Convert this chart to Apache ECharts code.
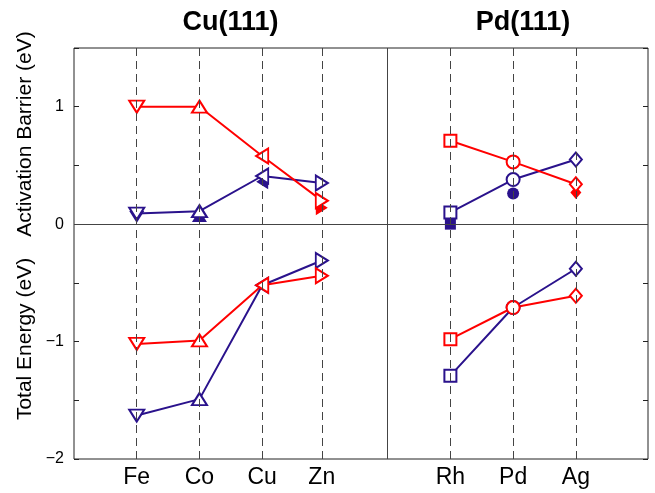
<!DOCTYPE html>
<html><head><meta charset="utf-8">
<script src="https://cdn.jsdelivr.net/npm/echarts@6/dist/echarts.min.js"></script>
<style>html,body{margin:0;padding:0;background:#fff}#c{width:655px;height:493px}</style>
</head><body><div id="c"></div>
<script>
// ---- data ----
const elements = ['Fe', 'Co', 'Cu', 'Zn', 'Rh', 'Pd', 'Ag'];
const xPos = [1, 2, 3, 3.95, 6, 7, 8];
const panelOf = [0, 0, 0, 0, 1, 1, 1];
const panelTitles = ['Cu(111)', 'Pd(111)'];
const markerOf = ['triangle-down', 'triangle', 'triangle-left', 'triangle-right', 'rect', 'circle', 'diamond'];
const barrierRed = [1.00, 1.00, 0.58, 0.20, 0.71, 0.53, 0.34];
const barrierBlue = [0.09, 0.11, 0.41, 0.35, 0.10, 0.38, 0.55];
const barrierRedFilled = [null, null, null, 0.14, null, null, 0.27];
const barrierBlueFilled = [0.06, 0.07, 0.36, null, 0.00, 0.26, null];
const energyRed = [-1.02, -0.99, -0.52, -0.44, -0.98, -0.71, -0.61];
const energyBlue = [-1.63, -1.49, -0.52, -0.31, -1.29, -0.71, -0.38];
const yTicks = [-2, -1, 0, 1];

const RED = '#ff0000', BLUE = '#2a128c';
const FONT = '"Liberation Sans", Arial, sans-serif';

function symInfo(m, hollow) {
  const e = hollow;
  switch (m) {
    case 'triangle-down': return {symbol: e ? 'emptyTriangle' : 'triangle', symbolRotate: 180, symbolSize: [15, 12]};
    case 'triangle': return {symbol: e ? 'emptyTriangle' : 'triangle', symbolRotate: 0, symbolSize: [15, 12]};
    case 'triangle-left': return {symbol: e ? 'emptyTriangle' : 'triangle', symbolRotate: 90, symbolSize: [15, 12]};
    case 'triangle-right': return {symbol: e ? 'emptyTriangle' : 'triangle', symbolRotate: -90, symbolSize: [15, 12]};
    case 'rect': return {symbol: e ? 'emptyRect' : 'rect', symbolRotate: 0, symbolSize: hollow ? 12 : 11};
    case 'circle': return {symbol: e ? 'emptyCircle' : 'circle', symbolRotate: 0, symbolSize: hollow ? 13 : 12};
    case 'diamond': return {symbol: e ? 'emptyDiamond' : 'diamond', symbolRotate: 0, symbolSize: hollow ? [12, 14] : [11, 13]};
  }
}

function pts(vals, panel, hollow) {
  const out = [];
  vals.forEach((v, i) => {
    if (v === null || panelOf[i] !== panel) return;
    out.push(Object.assign({value: [xPos[i], v]}, symInfo(markerOf[i], hollow)));
  });
  return out;
}

const series = [];
// reference lines
series.push({
  type: 'line', data: [], silent: true, z: 1,
  markLine: {
    silent: true, symbol: 'none', animation: false, label: {show: false},
    data: [
      ...xPos.map(x => ({xAxis: x, lineStyle: {type: [8, 5], color: '#444', width: 1}})),
      {xAxis: 5, lineStyle: {type: 'solid', color: '#444', width: 1}},
      {yAxis: 0, lineStyle: {type: 'solid', color: '#444', width: 1}}
    ]
  }
});
// filled markers (drawn first, behind)
[[barrierBlueFilled, BLUE], [barrierRedFilled, RED]].forEach(([vals, col]) => {
  [0, 1].forEach(p => {
    series.push({type: 'scatter', data: pts(vals, p, false), itemStyle: {color: col, opacity: 1}, z: 2, silent: true});
  });
});
// lines with hollow markers
[[barrierBlue, BLUE], [barrierRed, RED], [energyBlue, BLUE], [energyRed, RED]].forEach(([vals, col]) => {
  [0, 1].forEach(p => {
    series.push({type: 'line', data: pts(vals, p, true), color: col,
      lineStyle: {color: col, width: 2}, itemStyle: {color: col, borderWidth: 2},
      showSymbol: true, z: 3, silent: true, animation: false});
  });
});

const chart = echarts.init(document.getElementById('c'), null, {renderer: 'canvas'});
chart.setOption({
  animation: false,
  grid: {left: 74, right: 7, top: 48, bottom: 34, show: true, borderColor: '#222', borderWidth: 1, backgroundColor: 'transparent'},
  xAxis: {
    type: 'value', min: 0, max: 9.15,
    axisLine: {show: false}, axisTick: {show: false}, splitLine: {show: false},
    axisLabel: {
      customValues: xPos, color: '#000', fontSize: 23, fontFamily: FONT, margin: 7,
      formatter: v => { const i = xPos.indexOf(v); return i >= 0 ? elements[i] : ''; }
    }
  },
  yAxis: [{
    type: 'value', min: -2, max: 1.5, interval: 0.5, position: 'left',
    axisLine: {show: false}, splitLine: {show: false},
    axisTick: {show: true, inside: true, length: 5, lineStyle: {color: '#222'}},
    axisLabel: {color: '#000', fontSize: 16, fontFamily: FONT, margin: 10,
      formatter: v => yTicks.indexOf(v) >= 0 ? (v < 0 ? '\u2212' + Math.abs(v) : String(v)) : ''}
  }, {
    type: 'value', min: -2, max: 1.5, interval: 0.5, position: 'right',
    axisLine: {show: false}, splitLine: {show: false},
    axisTick: {show: true, inside: true, length: 5, lineStyle: {color: '#222'}},
    axisLabel: {show: false}
  }],
  graphic: [
    {type: 'text', x: 230.5, y: 23, style: {text: panelTitles[0], font: 'bold 27px ' + FONT, fill: '#000', align: 'center', verticalAlign: 'middle'}},
    {type: 'text', x: 523, y: 23, style: {text: panelTitles[1], font: 'bold 27px ' + FONT, fill: '#000', align: 'center', verticalAlign: 'middle'}},
    {type: 'text', x: 25, y: 134, rotation: Math.PI / 2, style: {text: 'Activation Barrier (eV)', font: '21px ' + FONT, fill: '#000', align: 'center', verticalAlign: 'middle'}},
    {type: 'text', x: 25, y: 339, rotation: Math.PI / 2, style: {text: 'Total Energy (eV)', font: '21px ' + FONT, fill: '#000', align: 'center', verticalAlign: 'middle'}}
  ],
  series: series
});
</script></body></html>
